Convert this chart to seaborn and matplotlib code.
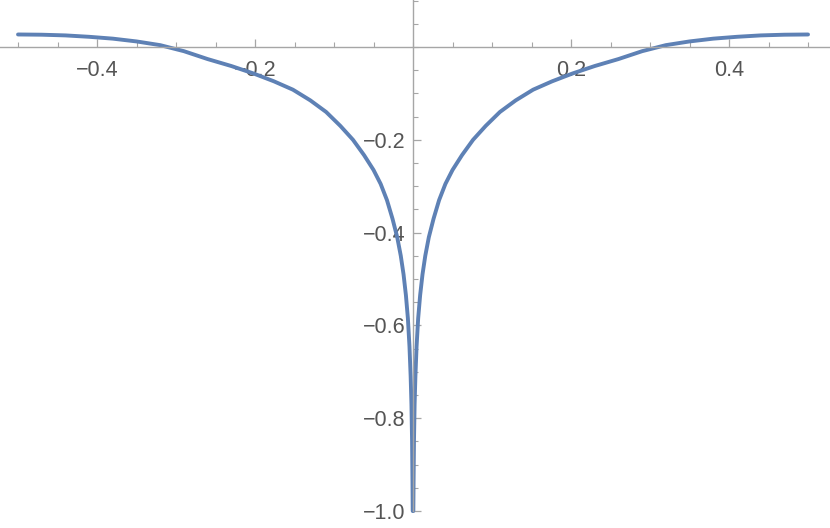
import matplotlib
matplotlib.use("Agg")
import matplotlib.pyplot as plt
from matplotlib.ticker import MultipleLocator, FixedLocator, FuncFormatter
import seaborn as sns
import pandas as pd

# values (right half; the curve is symmetric)
x_right = [0.0004, 0.0007, 0.0012, 0.002, 0.003, 0.0045, 0.0065, 0.009, 0.012,
           0.0155, 0.020, 0.026, 0.033, 0.041, 0.050, 0.062, 0.076, 0.092,
           0.110, 0.130, 0.152, 0.176, 0.202, 0.230, 0.260, 0.290, 0.320,
           0.350, 0.380, 0.410, 0.440, 0.470, 0.500]
y_right = [-1.0, -0.935, -0.85, -0.77, -0.71, -0.645, -0.585, -0.535, -0.49,
           -0.45, -0.41, -0.37, -0.33, -0.295, -0.265, -0.233, -0.200, -0.170,
           -0.140, -0.115, -0.092, -0.074, -0.057, -0.041, -0.026, -0.009, 0.004,
           0.012, 0.018, 0.022, 0.025, 0.0265, 0.027]

x_left = [-v for v in reversed(x_right)]
y_left = list(reversed(y_right))

x_ticks = [-0.4, -0.2, 0.2, 0.4]
y_ticks = [-1.0, -0.8, -0.6, -0.4, -0.2]

df = pd.DataFrame({
    "x": x_left + x_right,
    "y": y_left + y_right,
    "branch": ["left"] * len(x_left) + ["right"] * len(x_right),
})

sns.set_theme(style="white")
plt.rcParams["font.family"] = ["Liberation Sans", "DejaVu Sans"]

fig = plt.figure(figsize=(8.3, 5.28), dpi=100)
ax = fig.add_axes([0, 0, 1, 1])
ax.set_facecolor("white")

sns.lineplot(data=df, x="x", y="y", units="branch", estimator=None, sort=False,
             color="#5E81B5", linewidth=2.8, ax=ax)

ax.set_xlim(-0.5228, 0.5278)
ax.set_ylim(-1.0366, 0.1013)

axis_col = "#a6a6a6"
for s in ["top", "right"]:
    ax.spines[s].set_visible(False)
ax.spines["left"].set_position(("data", 0))
ax.spines["bottom"].set_position(("data", 0))
ax.spines["left"].set_bounds(-1.0, 0.1013)
for s in ["left", "bottom"]:
    ax.spines[s].set_color(axis_col)
    ax.spines[s].set_linewidth(1.0)

ax.xaxis.set_major_locator(FixedLocator(x_ticks))
ax.yaxis.set_major_locator(FixedLocator(y_ticks))
ax.xaxis.set_minor_locator(MultipleLocator(0.05))
ax.yaxis.set_minor_locator(MultipleLocator(0.05))
fmt = FuncFormatter(lambda v, p: f"{v:.1f}".replace("-", "\u2212"))
ax.xaxis.set_major_formatter(fmt)
ax.yaxis.set_major_formatter(fmt)

ax.tick_params(axis="both", which="both", bottom=True, left=True, top=False, right=False)
ax.tick_params(axis="both", which="major", direction="in", length=5.5, width=0.9,
               color=axis_col, labelcolor="#555555", labelsize=15.5)
ax.tick_params(axis="both", which="minor", direction="in", length=3.5, width=0.8,
               color=axis_col)
ax.tick_params(axis="x", which="major", pad=9)
ax.tick_params(axis="y", which="major", pad=5.5)
ax.set_xlabel("")
ax.set_ylabel("")
ax.grid(False)

fig.savefig("out.png", dpi=100)
